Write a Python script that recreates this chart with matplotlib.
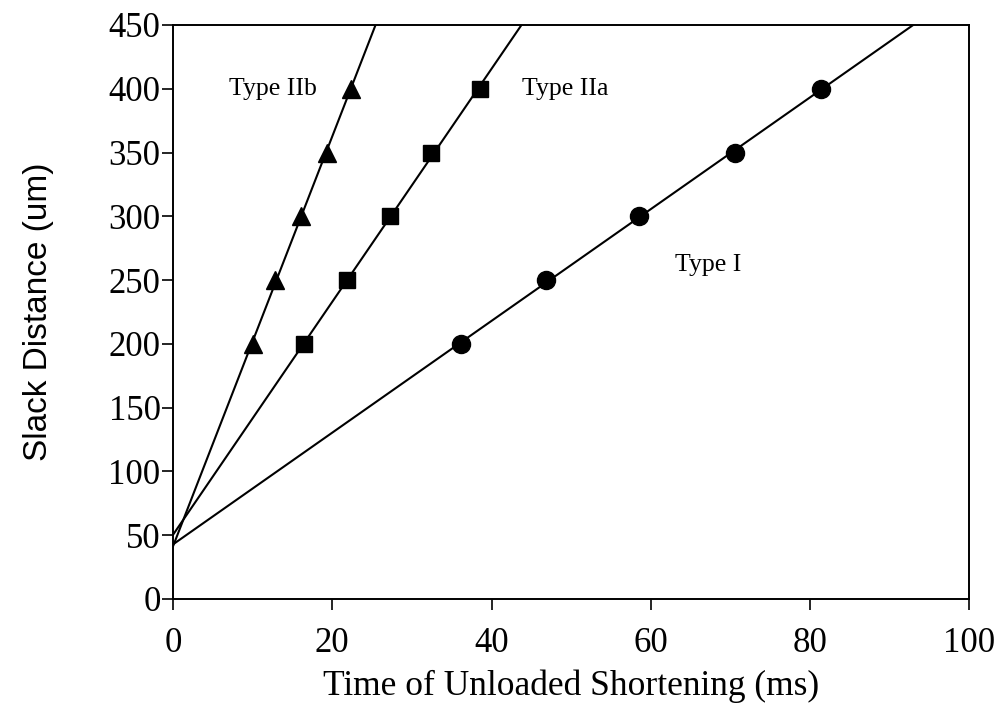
import numpy as np
import matplotlib
matplotlib.use('Agg')
import matplotlib.pyplot as plt

# slack distances (um), same for all fibre types
slack = [200, 250, 300, 350, 400]

# time of unloaded shortening (ms)
time_I = [36.2, 46.9, 58.5, 70.6, 81.4]
time_IIa = [16.5, 21.9, 27.3, 32.4, 38.6]
time_IIb = [10.0, 12.8, 16.1, 19.3, 22.3]

labels = ['Type I', 'Type IIa', 'Type IIb']
label_pos = [(63.0, 262), (43.8, 400), (7.0, 400)]

serif = 'Liberation Serif'
sans = 'Liberation Sans'

fig = plt.figure(figsize=(9.99, 7.24), dpi=100)
ax = fig.add_axes([0.1732, 0.1727, 0.797, 0.7928])

series = [(time_I, 'o', 13), (time_IIa, 's', 11), (time_IIb, '^', 12.5)]
xfit = np.linspace(0, 100, 200)
for t, m, ms in series:
    # least squares line through each fibre type
    slope, icpt = np.polyfit(t, slack, 1)
    ax.plot(xfit, slope * xfit + icpt, color='black', lw=1.5, zorder=2)
    ax.plot(t, slack, linestyle='none', marker=m, markersize=ms,
            color='black', zorder=3)

for lab, (lx, ly) in zip(labels, label_pos):
    ax.text(lx, ly, lab, fontsize=18.5, family=serif, va='center', ha='left')

ax.set_xlim(0, 100)
ax.set_ylim(0, 450)
ax.set_xticks(np.arange(0, 101, 20))
ax.set_yticks(np.arange(0, 451, 50))
ax.tick_params(axis='y', direction='out', length=8, width=1.2, pad=1)
ax.tick_params(axis='x', direction='out', length=8, width=1.2, pad=12)
for lab in ax.get_xticklabels() + ax.get_yticklabels():
    lab.set_family(serif)
    lab.set_fontsize(25)
for s in ax.spines.values():
    s.set_linewidth(1.4)

ax.set_xlabel('Time of Unloaded Shortening (ms)', family=serif, fontsize=25.5,
              labelpad=7)
ax.set_ylabel('Slack Distance (um)', family=sans, fontsize=24, labelpad=39)

fig.savefig('out.png', dpi=100)
